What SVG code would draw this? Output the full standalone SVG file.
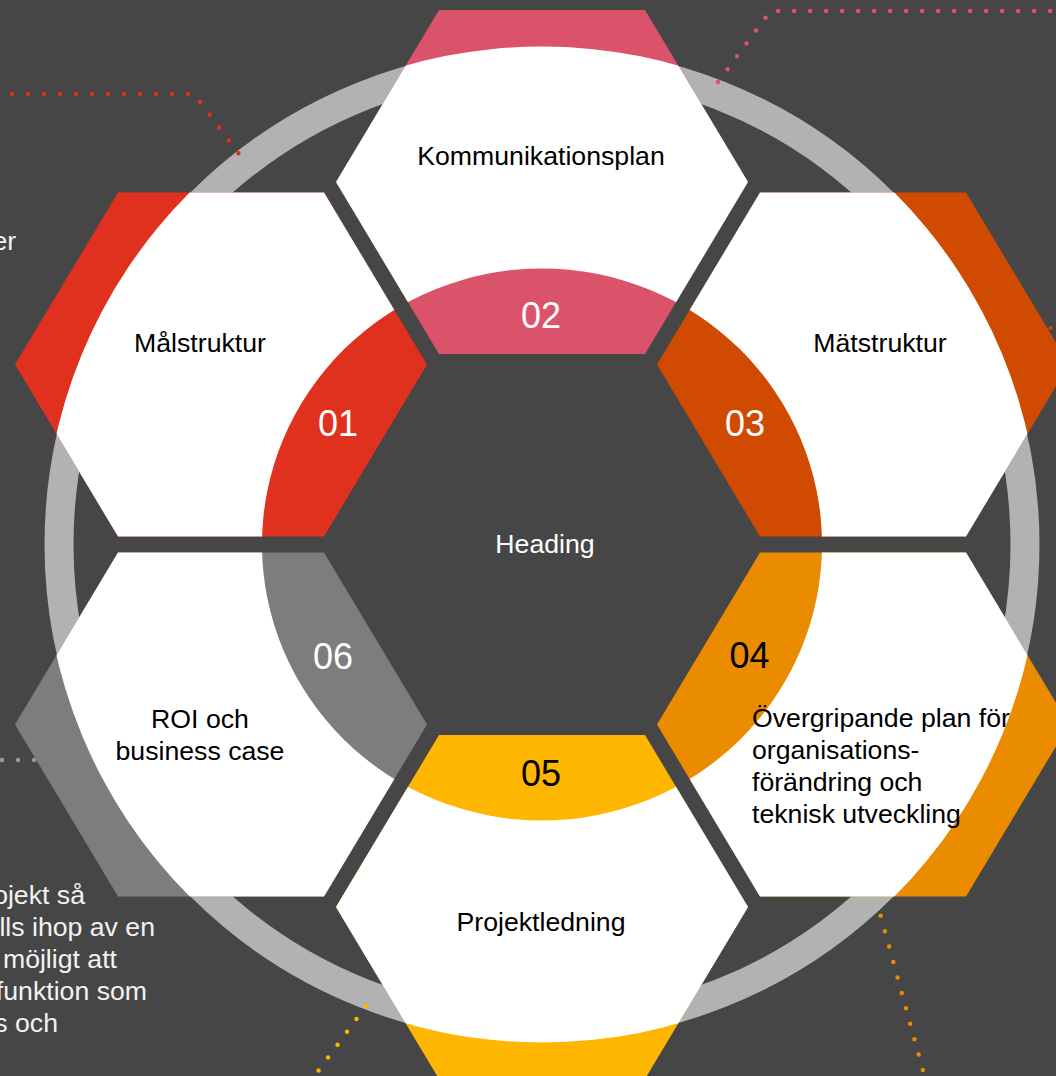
<svg xmlns="http://www.w3.org/2000/svg" xmlns:xlink="http://www.w3.org/1999/xlink" width="1056" height="1076" viewBox="0 0 1056 1076">
<style>
.lbl{font-family:"Liberation Sans",Arial,sans-serif;font-size:26.67px;fill:#000;text-anchor:middle}
.num{font-family:"Liberation Sans",Arial,sans-serif;font-size:36px;text-anchor:middle}
.w{fill:#fff}
.k{fill:#000}
.side{font-family:"Liberation Sans",Arial,sans-serif;font-size:26.67px;fill:#f2f2f2}
.dot{fill:none;stroke-width:4.5;stroke-linecap:round;stroke-dasharray:0 16}
</style>
<defs>
<path id="ann" fill-rule="evenodd" d="M44,544.5 a498,498 0 1,0 996,0 a498,498 0 1,0 -996,0 Z M262,544.5 a280,276 0 1,0 560,0 a280,276 0 1,0 -560,0 Z"/>
<polygon id="h2" points="439,10 645,10 748,182 645,354 439,354 336,182"/>
<polygon id="h1" points="118,192.5 324,192.5 427,364.5 324,536.5 118,536.5 15,364.5"/>
<polygon id="h3" points="760,192.5 966,192.5 1069,364.5 966,536.5 760,536.5 657,364.5"/>
<polygon id="h4" points="760,552.5 966,552.5 1069,724.5 966,896.5 760,896.5 657,724.5"/>
<polygon id="h5" points="439,735 645,735 748,907 645,1079 439,1079 336,907"/>
<polygon id="h6" points="118,552.5 324,552.5 427,724.5 324,896.5 118,896.5 15,724.5"/>
<clipPath id="c1"><use xlink:href="#h1"/></clipPath>
<clipPath id="c2"><use xlink:href="#h2"/></clipPath>
<clipPath id="c3"><use xlink:href="#h3"/></clipPath>
<clipPath id="c4"><use xlink:href="#h4"/></clipPath>
<clipPath id="c5"><use xlink:href="#h5"/></clipPath>
<clipPath id="c6"><use xlink:href="#h6"/></clipPath>
</defs>
<rect width="1056" height="1076" fill="#464646"/>
<circle id="ring" cx="542" cy="544.5" r="483" fill="none" stroke="#B2B2B2" stroke-width="29"/>
<g id="connectors">
<path class="dot" stroke="#E0301E" d="M12,94 H194 L248,166"/>
<path class="dot" stroke="#DB536A" d="M718,82 L770.5,11 H1056"/>
<path class="dot" stroke="#FFB600" d="M366,1006 L310,1082"/>
<path class="dot" stroke="#EB8C00" d="M880.7,915.7 L925,1078"/>
<path class="dot" stroke="#999999" d="M2,760 H40"/>
<circle cx="1050.5" cy="328" r="2" fill="#D04A02"/>
</g>
<g id="node-02">
<use xlink:href="#h2" fill="#DB536A"/>
<use xlink:href="#ann" fill="#fff" clip-path="url(#c2)"/>
<text class="lbl" x="541" y="165">Kommunikationsplan</text>
<text class="num w" x="541" y="328">02</text>
</g>
<g id="node-01">
<use xlink:href="#h1" fill="#E0301E"/>
<use xlink:href="#ann" fill="#fff" clip-path="url(#c1)"/>
<text class="lbl" x="200" y="352">Målstruktur</text>
<text class="num w" x="338" y="436">01</text>
</g>
<g id="node-03">
<use xlink:href="#h3" fill="#D04A02"/>
<use xlink:href="#ann" fill="#fff" clip-path="url(#c3)"/>
<text class="lbl" x="880" y="352">Mätstruktur</text>
<text class="num w" x="745" y="436">03</text>
</g>
<g id="node-04">
<use xlink:href="#h4" fill="#EB8C00"/>
<use xlink:href="#ann" fill="#fff" clip-path="url(#c4)"/>
<text class="num k" x="749.5" y="668">04</text>
<text class="lbl" style="text-anchor:start" x="752"><tspan x="752" y="727">Övergripande plan för</tspan><tspan x="752" y="759">organisations-</tspan><tspan x="752" y="791">förändring och</tspan><tspan x="752" y="823">teknisk utveckling</tspan></text>
</g>
<g id="node-05">
<use xlink:href="#h5" fill="#FFB600"/>
<use xlink:href="#ann" fill="#fff" clip-path="url(#c5)"/>
<text class="num k" x="541" y="786">05</text>
<text class="lbl" x="541" y="931">Projektledning</text>
</g>
<g id="node-06">
<use xlink:href="#h6" fill="#7D7D7D"/>
<use xlink:href="#ann" fill="#fff" clip-path="url(#c6)"/>
<text class="num w" x="333" y="669">06</text>
<text class="lbl" x="200" y="728">ROI och</text>
<text class="lbl" x="200" y="760">business case</text>
</g>
<g id="heading">
<text class="lbl w" x="545" y="553">Heading</text>
</g>
<g id="side-text">
<text class="side" x="-7.5" y="250">er</text>
<text class="side" style="text-anchor:end" x="85" y="904">ojekt så</text>
<text class="side" style="text-anchor:end" x="155" y="936">lls ihop av en</text>
<text class="side" style="text-anchor:end" x="117" y="968">möjligt att</text>
<text class="side" style="text-anchor:end" x="147" y="1000">funktion som</text>
<text class="side" style="text-anchor:end" x="58" y="1032">s och</text>
</g>
</svg>
